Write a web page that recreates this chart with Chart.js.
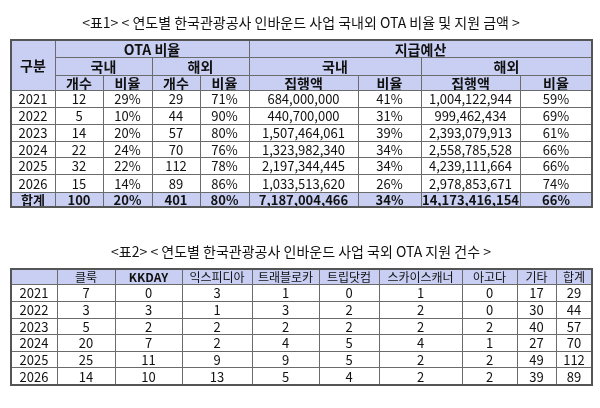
<!DOCTYPE html>
<html><head><meta charset="utf-8">
<script src="https://cdn.jsdelivr.net/npm/chart.js@4"></script>
<style>html,body{margin:0;padding:0;background:#fff}</style>
</head><body>
<canvas id="c" width="600" height="408"></canvas>
<script>
// table 1 data
const years = ['2021', '2022', '2023', '2024', '2025', '2026'];
const domCount = [12, 5, 14, 22, 32, 15];
const domRatio = ['29%', '10%', '20%', '24%', '22%', '14%'];
const ovsCount = [29, 44, 57, 70, 112, 89];
const ovsRatio = ['71%', '90%', '80%', '76%', '78%', '86%'];
const domBudget = ['684,000,000', '440,700,000', '1,507,464,061', '1,323,982,340', '2,197,344,445', '1,033,513,620'];
const domBudgetRatio = ['41%', '31%', '39%', '34%', '34%', '26%'];
const ovsBudget = ['1,004,122,944', '999,462,434', '2,393,079,913', '2,558,785,528', '4,239,111,664', '2,978,853,671'];
const ovsBudgetRatio = ['59%', '69%', '61%', '66%', '66%', '74%'];
const totalRow = ['합계', '100', '20%', '401', '80%', '7,187,004,466', '34%', '14,173,416,154', '66%'];

// table 2 data
const otaNames = ['클룩', 'KKDAY', '익스피디아', '트래블로카', '트립닷컴', '스카이스캐너', '아고다', '기타', '합계'];
const otaCounts = [
    [7, 0, 3, 1, 0, 1, 0, 17, 29],
    [3, 3, 1, 3, 2, 2, 0, 30, 44],
    [5, 2, 2, 2, 2, 2, 2, 40, 57],
    [20, 7, 2, 4, 5, 4, 1, 27, 70],
    [25, 11, 9, 9, 5, 2, 2, 49, 112],
    [14, 10, 13, 5, 4, 2, 2, 39, 89]
];

const title1 = '<표1> < 연도별 한국관광공사 인바운드 사업 국내외 OTA 비율 및 지원 금액 >';
const title2 = '<표2> < 연도별 한국관광공사 인바운드 사업 국외 OTA 지원 건수 >';

// layout (in scale units = page pixels)
const cols1 = [11, 55, 103, 152, 200, 249, 358, 421, 520, 592];
const rows1 = [40, 57, 75, 90, 107, 124, 141, 157, 174, 192, 207];
const cols2 = [11, 57, 115, 182, 252, 319, 379, 462, 517, 556, 592];
const rows2 = [269, 284, 301, 318, 334, 351, 367, 385];
const HEAD = '#c8cff2';
const FONT = '"Noto Sans CJK KR", "Noto Sans", sans-serif';

const tablePlugin = {
    id: 'tables',
    afterDraw(chart) {
        const ctx = chart.ctx;
        const sx = chart.scales.x, sy = chart.scales.y;
        const X = v => sx.getPixelForValue(v);
        const Y = v => sy.getPixelForValue(v);

        function cell(cols, rows, c0, c1, r0, r1, text, opts = {}) {
            const x0 = X(cols[c0]), x1 = X(cols[c1]), y0 = Y(rows[r0]), y1 = Y(rows[r1]);
            if (opts.fill) {
                ctx.fillStyle = opts.fill;
                ctx.fillRect(x0, y0, x1 - x0, y1 - y0);
            }
            ctx.strokeStyle = '#6b6b6b';
            ctx.lineWidth = 1;
            ctx.strokeRect(x0 + 0.5, y0 + 0.5, x1 - x0, y1 - y0);
            ctx.fillStyle = '#111';
            ctx.font = (opts.bold ? 'bold ' : '') + (opts.size || 13) + 'px ' + FONT;
            ctx.textAlign = 'center';
            ctx.textBaseline = 'middle';
            ctx.fillText(String(text), (x0 + x1) / 2, (y0 + y1) / 2 + 1);
        }
        function outline(cols, rows) {
            ctx.strokeStyle = '#555';
            ctx.lineWidth = 2;
            ctx.strokeRect(X(cols[0]), Y(rows[0]), X(cols[cols.length - 1]) - X(cols[0]), Y(rows[rows.length - 1]) - Y(rows[0]));
        }

        ctx.save();
        ctx.fillStyle = '#111';
        ctx.font = '14px ' + FONT;
        ctx.textAlign = 'center';
        ctx.textBaseline = 'middle';
        ctx.fillText(title1, X(301), Y(23));
        ctx.fillText(title2, X(301), Y(252));

        // table 1 header
        const h = { fill: HEAD, bold: true, size: 14 };
        cell(cols1, rows1, 0, 1, 0, 3, '구분', h);
        cell(cols1, rows1, 1, 5, 0, 1, 'OTA 비율', h);
        cell(cols1, rows1, 5, 9, 0, 1, '지급예산', h);
        cell(cols1, rows1, 1, 3, 1, 2, '국내', h);
        cell(cols1, rows1, 3, 5, 1, 2, '해외', h);
        cell(cols1, rows1, 5, 7, 1, 2, '국내', h);
        cell(cols1, rows1, 7, 9, 1, 2, '해외', h);
        ['개수', '비율', '개수', '비율', '집행액', '비율', '집행액', '비율'].forEach((t, i) =>
            cell(cols1, rows1, i + 1, i + 2, 2, 3, t, h));
        years.forEach((yr, r) => {
            const vals = [yr, domCount[r], domRatio[r], ovsCount[r], ovsRatio[r], domBudget[r], domBudgetRatio[r], ovsBudget[r], ovsBudgetRatio[r]];
            vals.forEach((v, c) => cell(cols1, rows1, c, c + 1, r + 3, r + 4, v));
        });
        totalRow.forEach((v, c) => cell(cols1, rows1, c, c + 1, 9, 10, v, { fill: HEAD, bold: true }));
        outline(cols1, rows1);

        // table 2
        cell(cols2, rows2, 0, 1, 0, 1, '', { fill: HEAD });
        otaNames.forEach((n, i) => cell(cols2, rows2, i + 1, i + 2, 0, 1, n, { fill: HEAD, bold: i === 1, size: 12 }));
        years.forEach((yr, r) => {
            cell(cols2, rows2, 0, 1, r + 1, r + 2, yr);
            otaCounts[r].forEach((v, c) => cell(cols2, rows2, c + 1, c + 2, r + 1, r + 2, v));
        });
        outline(cols2, rows2);
        ctx.restore();
    }
};

new Chart(document.getElementById('c').getContext('2d'), {
    type: 'scatter',
    data: { datasets: [{ data: [] }] },
    options: {
        responsive: false,
        animation: false,
        layout: { padding: 0 },
        plugins: { legend: { display: false }, tooltip: { enabled: false } },
        scales: {
            x: { type: 'linear', min: 0, max: 600, display: false },
            y: { type: 'linear', min: 0, max: 408, reverse: true, display: false }
        }
    },
    plugins: [tablePlugin]
});
</script>
</body></html>
